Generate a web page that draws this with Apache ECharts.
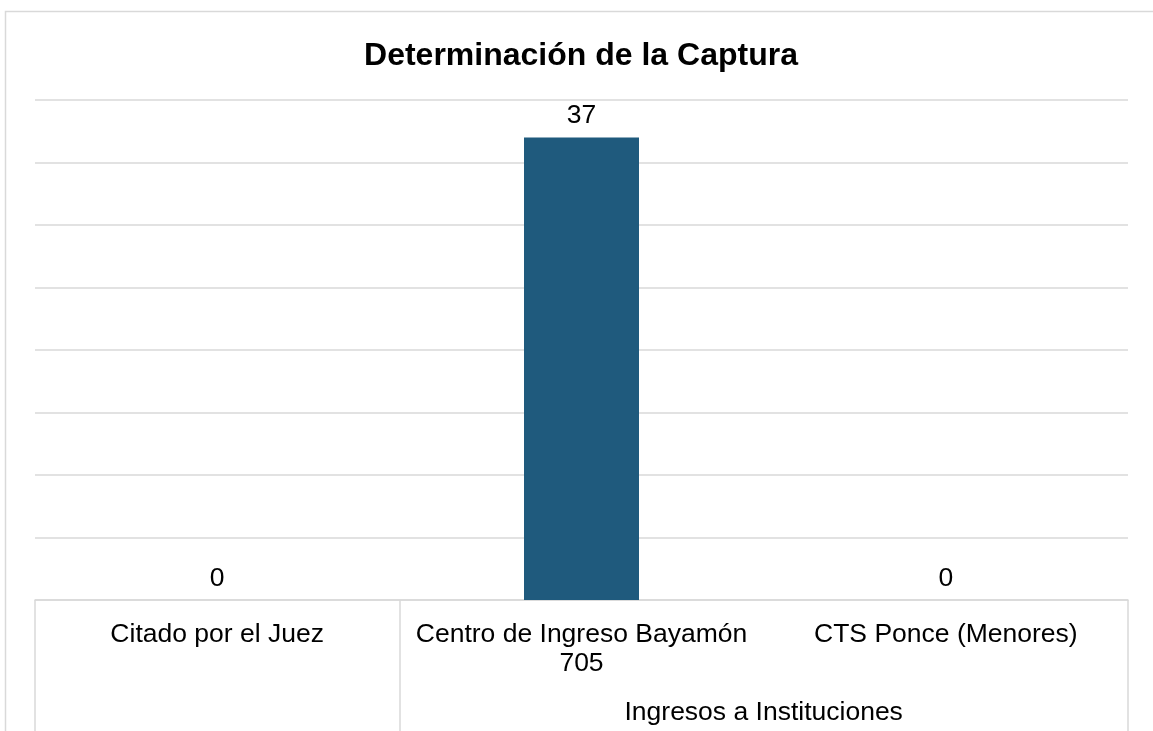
<!DOCTYPE html>
<html>
<head>
<meta charset="utf-8">
<script src="https://cdn.jsdelivr.net/npm/echarts@6/dist/echarts.min.js"></script>
<style>
  html, body { margin: 0; padding: 0; background: #fff; }
  #chart { width: 1153px; height: 731px; }
</style>
</head>
<body>
<div id="chart"></div>
<script>
var titleText = 'Determinación de la Captura';
var categories = ['Citado por el Juez', 'Centro de Ingreso Bayamón\n705', 'CTS Ponce (Menores)'];
var values = [0, 37, 0];
var groupName = 'Ingresos a Instituciones';
// limites del grupo en unidades de categoria
var groupBounds = [0, 1, 3];
var groupCenter = 2;

var chart = echarts.init(document.getElementById('chart'));
var grey = '#d9d9d9';
var font = 'Liberation Sans, Arial, sans-serif';

chart.setOption({
  animation: false,
  title: {
    text: titleText,
    left: 576,
    top: 35,
    textAlign: 'center',
    textStyle: { fontFamily: font, fontSize: 32, fontWeight: 'bold', color: '#000' }
  },
  grid: { left: 35, right: 25, top: 100, bottom: 131 },
  graphic: [{
    type: 'rect',
    shape: { x: 5.5, y: 11.5, width: 1300, height: 900 },
    style: { fill: 'none', stroke: grey, lineWidth: 1.5 },
    silent: true
  }],
  xAxis: [{
    type: 'category',
    data: categories,
    axisLine: { lineStyle: { color: grey, width: 1.5 } },
    axisTick: { show: false },
    axisLabel: {
      color: '#000', fontFamily: font, fontSize: 26.5, margin: 20, lineHeight: 29,
      interval: 0
    }
  }, {
    type: 'value',
    position: 'bottom',
    min: 0,
    max: 3,
    interval: 1,
    splitLine: { show: false },
    axisLine: { show: false },
    axisTick: {
      show: true, length: 135, customValues: groupBounds,
      lineStyle: { color: grey, width: 1.5 }
    },
    axisLabel: {
      customValues: [groupCenter],
      formatter: function () { return groupName; },
      color: '#000', fontFamily: font, fontSize: 26.5, margin: 99
    }
  }],
  yAxis: {
    type: 'value',
    min: 0,
    max: 40,
    interval: 5,
    axisLabel: { show: false },
    axisLine: { show: false },
    axisTick: { show: false },
    splitLine: { lineStyle: { color: grey, width: 1.5 } }
  },
  series: [{
    type: 'bar',
    data: values,
    barWidth: 115,
    itemStyle: { color: '#1f5a7d' },
    label: {
      show: true, position: 'top', distance: 8,
      color: '#000', fontFamily: font, fontSize: 26.5
    }
  }]
});
</script>
</body>
</html>
